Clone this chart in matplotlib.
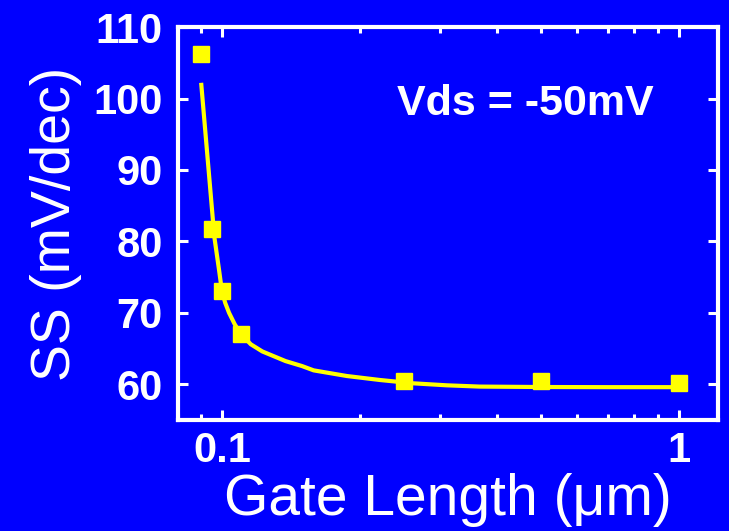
import matplotlib
matplotlib.use("Agg")
import matplotlib.pyplot as plt
from matplotlib.ticker import FixedLocator, NullFormatter, LogLocator

# Measured subthreshold swing vs gate length
gate_length = [0.09, 0.095, 0.10, 0.11, 0.25, 0.50, 1.00]
ss_measured = [106.3, 81.8, 73.1, 67.0, 60.45, 60.45, 60.15]

# Fitted trend curve
fit_length = [0.0899, 0.0961, 0.0984, 0.0998, 0.1015, 0.1035, 0.1065, 0.110,
              0.1155, 0.1224, 0.1376, 0.1496, 0.1586, 0.1875, 0.2217, 0.2617,
              0.3099, 0.3662, 0.50, 0.70, 1.00]
fit_ss = [102.2, 80.6, 76.0, 73.1, 71.4, 70.0, 68.4, 67.0,
          65.6, 64.6, 63.25, 62.55, 61.95, 61.16, 60.6, 60.14,
          59.86, 59.68, 59.62, 59.6, 59.6]

y_ticks = [60, 70, 80, 90, 100, 110]
x_ticks = [0.1, 1]
x_tick_labels = ["0.1", "1"]

BLUE = "#0000FF"
YELLOW = "#FFFF00"
WHITE = "#FFFFFF"

plt.rcParams["font.family"] = ["Liberation Sans", "DejaVu Sans"]

fig = plt.figure(figsize=(7.29, 5.31), dpi=100, facecolor=BLUE)
ax = fig.add_axes([0.2442, 0.209, 0.7408, 0.740], facecolor=BLUE)

ax.plot(fit_length, fit_ss, color=YELLOW, lw=3.0, solid_capstyle="butt",
        solid_joinstyle="round", zorder=2)
ax.plot(gate_length, ss_measured, ls="none", marker="s", ms=12.2,
        color=YELLOW, mec=YELLOW, zorder=3)

ax.set_xscale("log")
ax.set_xlim(0.08, 1.22)
ax.set_ylim(55, 110)

ax.xaxis.set_major_locator(FixedLocator(x_ticks))
ax.set_xticklabels(x_tick_labels)
ax.xaxis.set_minor_locator(LogLocator(base=10, subs=range(2, 10)))
ax.xaxis.set_minor_formatter(NullFormatter())
ax.set_yticks(y_ticks)

for sp in ax.spines.values():
    sp.set_color(WHITE)
    sp.set_linewidth(3)

ax.tick_params(which="both", direction="in", top=True, right=True,
               colors=WHITE)
ax.tick_params(which="major", length=7.5, width=2.2)
ax.tick_params(which="minor", length=4, width=2.2)
ax.tick_params(axis="y", which="major", pad=11)
ax.tick_params(axis="x", which="major", pad=8)

for lab in ax.get_xticklabels() + ax.get_yticklabels():
    lab.set_fontsize(30)
    lab.set_fontweight("bold")
    lab.set_color(WHITE)

ax.set_xlabel("Gate Length (\u03bcm)", fontsize=41, color=WHITE, labelpad=1)
ax.set_ylabel("SS (mV/dec)", fontsize=40, color=WHITE, labelpad=8)

ax.text(0.405, 0.776, "Vds = -50mV", transform=ax.transAxes, fontsize=31,
        fontweight="bold", color=WHITE, ha="left", va="baseline")

fig.savefig("out.png", dpi=100, facecolor=BLUE)
